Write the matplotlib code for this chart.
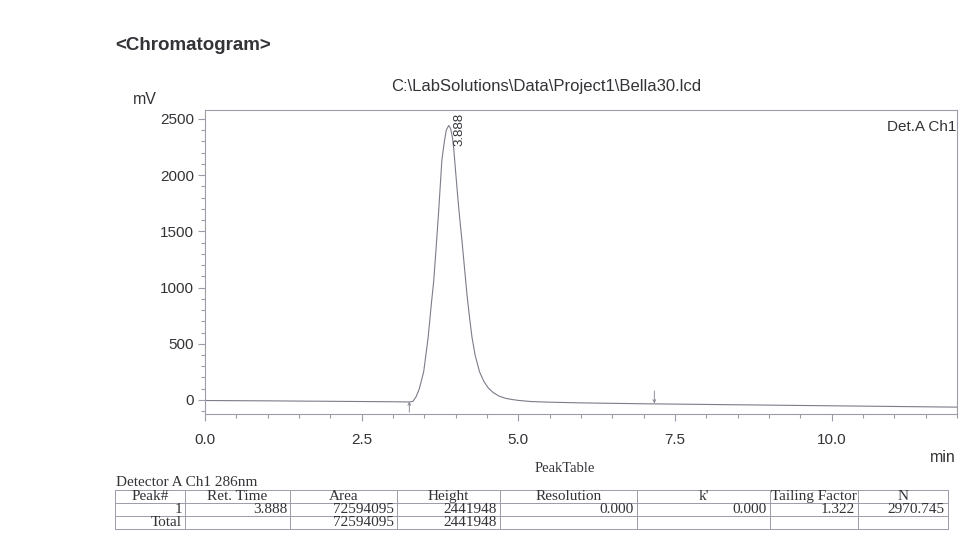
import matplotlib
matplotlib.use("Agg")
import matplotlib.pyplot as plt
from matplotlib.lines import Line2D
from matplotlib.ticker import MultipleLocator, FixedLocator

# ---- data ----
# detector trace (time in min, signal in mV)
trace_t = [0.0, 1.0, 2.0, 3.0, 3.26, 3.32, 3.37, 3.42, 3.49, 3.56, 3.61, 3.65,
           3.68, 3.73, 3.78, 3.82, 3.85, 3.888, 3.92, 3.95, 3.97, 4.01, 4.05,
           4.10, 4.14, 4.18, 4.22, 4.26, 4.31, 4.38, 4.45, 4.52, 4.60, 4.70,
           4.80, 4.90, 5.0, 5.2, 5.5, 6.0, 6.5, 7.0, 7.17, 8.0, 9.0, 10.0,
           11.0, 12.0]
trace_mv = [-5, -8, -12, -16, -18, -12, 30, 100, 252, 552, 845, 1060,
            1290, 1691, 2136, 2300, 2400, 2441.948, 2415, 2330, 2230, 1960, 1700,
            1420, 1180, 940, 740, 560, 400, 252, 165, 107, 65, 32,
            14, 4, -4, -14, -20, -26, -30, -34, -35, -40, -46, -52, -58, -64]

peak_rt = 3.888
peak_height_mv = 2441948 / 1000.0
peak_start = 3.26
peak_end = 7.17

x_ticks = [0.0, 2.5, 5.0, 7.5, 10.0]
x_ticklabels = ["0.0", "2.5", "5.0", "7.5", "10.0"]
y_ticks = [0, 500, 1000, 1500, 2000, 2500]

table_header = ["Peak#", "Ret. Time", "Area", "Height", "Resolution", "k'",
                "Tailing Factor", "N"]
table_row1 = ["1", "3.888", "72594095", "2441948", "0.000", "0.000", "1.322",
              "2970.745"]
table_total = ["Total", "", "72594095", "2441948", "", "", "", ""]

# ---- figure ----
W, H = 960, 552
fig = plt.figure(figsize=(W / 100, H / 100), dpi=100)
fig.patch.set_facecolor("white")

def fx(px):
    return px / W

def fy(py):
    return 1 - py / H

sans = "Liberation Sans"
serif = "Liberation Serif"
txt_col = "#333338"
line_col = "#9c9caa"
trace_col = "#7c7c8a"

left, right, top, bottom = 205, 957, 110, 414
ax = fig.add_axes([fx(left), fy(bottom), fx(right - left), (bottom - top) / H])
ax.plot(trace_t, trace_mv, color=trace_col, lw=0.8)
ax.set_xlim(0, 12)
ax.set_ylim(-125, 2580)

for s in ax.spines.values():
    s.set_color(line_col)
    s.set_linewidth(0.8)

ax.xaxis.set_major_locator(FixedLocator(x_ticks))
ax.set_xticklabels(x_ticklabels)
ax.xaxis.set_minor_locator(MultipleLocator(0.5))
ax.yaxis.set_major_locator(FixedLocator(y_ticks))
ax.yaxis.set_minor_locator(MultipleLocator(100))
ax.tick_params(which="both", direction="out", color=line_col, width=0.8,
               labelcolor=txt_col, labelsize=11)
ax.tick_params(which="major", length=5, pad=3)
ax.tick_params(which="minor", length=3)
ax.tick_params(axis="x", which="major", pad=9)
for lab in ax.get_xticklabels() + ax.get_yticklabels():
    lab.set_fontfamily(sans)

# peak label and integration marks
ax.annotate(f"{peak_rt:.3f}", xy=(peak_rt, peak_height_mv), xytext=(8, -3),
            textcoords="offset points", rotation=90, ha="center", va="center",
            fontsize=9.5, family=sans, color=txt_col)
ax.annotate("", xy=(peak_start, -15), xytext=(peak_start, -110),
            arrowprops=dict(arrowstyle="->", lw=0.6, color=trace_col,
                            shrinkA=0, shrinkB=0, mutation_scale=5))
ax.annotate("", xy=(peak_end, -30), xytext=(peak_end, 80),
            arrowprops=dict(arrowstyle="->", lw=0.6, color=trace_col,
                            shrinkA=0, shrinkB=0, mutation_scale=5))
ax.text(0.999, 0.945, "Det.A Ch1", transform=ax.transAxes, ha="right",
        va="center", fontsize=11, family=sans, color=txt_col)

# header texts
fig.text(fx(115), fy(45), "<Chromatogram>", fontsize=13.5, fontweight="bold",
         family=sans, color=txt_col, va="center")
fig.text(fx(546), fy(86), "C:\\LabSolutions\\Data\\Project1\\Bella30.lcd",
         fontsize=12, family=sans, color=txt_col, ha="center", va="center")
fig.text(fx(145), fy(99), "mV", fontsize=11.5, family=sans, color=txt_col,
         ha="center", va="center")
fig.text(fx(956), fy(458), "min", fontsize=11.5, family=sans, color=txt_col,
         ha="right", va="center")

# ---- peak table ----
fig.text(fx(565), fy(468), "PeakTable", fontsize=10.5, family=serif,
         color=txt_col, ha="center", va="center")
fig.text(fx(116), fy(483), "Detector A Ch1 286nm", fontsize=11, family=serif,
         color=txt_col, ha="left", va="center")

col_edges = [115, 185, 290, 397, 500, 637, 770, 858, 948]
row_edges = [490, 503, 516, 529]
for yy in row_edges:
    fig.add_artist(Line2D([fx(col_edges[0]), fx(col_edges[-1])], [fy(yy), fy(yy)],
                          color=line_col, lw=0.7))
for xx in col_edges:
    fig.add_artist(Line2D([fx(xx), fx(xx)], [fy(row_edges[0]), fy(row_edges[-1])],
                          color=line_col, lw=0.7))

for i, label in enumerate(table_header):
    cx = (col_edges[i] + col_edges[i + 1]) / 2
    fig.text(fx(cx), fy((row_edges[0] + row_edges[1]) / 2), label, fontsize=11,
             family=serif, color=txt_col, ha="center", va="center")
for r, row in enumerate([table_row1, table_total]):
    cy = (row_edges[r + 1] + row_edges[r + 2]) / 2
    for i, val in enumerate(row):
        if val:
            fig.text(fx(col_edges[i + 1] - 3), fy(cy), val, fontsize=11,
                     family=serif, color=txt_col, ha="right", va="center")

fig.savefig("out.png", dpi=100, facecolor="white")
